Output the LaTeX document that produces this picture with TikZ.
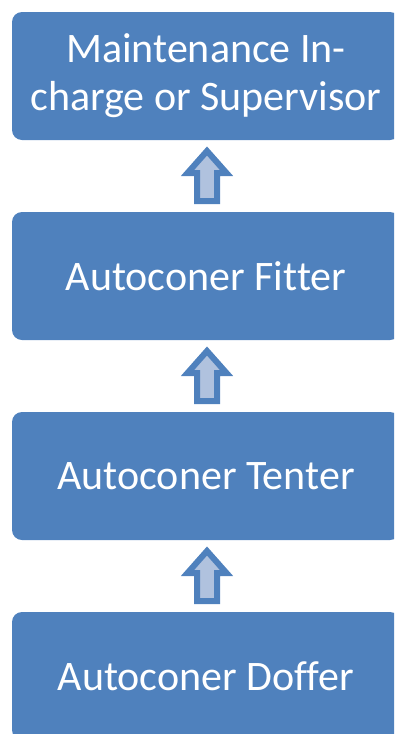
\documentclass[tikz,border=0pt]{standalone}
\usepackage{fontspec}
\setmainfont[Ligatures=NoCommon]{Carlito}
\usetikzlibrary{calc}
\definecolor{boxblue}{HTML}{4F81BD}
\definecolor{arrowfill}{HTML}{B0C2DE}
\tikzset{
  stagebox/.style={fill=boxblue, draw=none, rounded corners=10pt, minimum width=388pt, minimum height=128pt, inner sep=0pt, text=white, align=center, font=\fontsize{42pt}{48pt}\selectfont},
  uparrow/.style={fill=arrowfill, draw=boxblue, line width=6pt, line join=miter}
}
\begin{document}
\begin{tikzpicture}[x=1pt,y=1pt]
\useasboundingbox (0,0) rectangle (394,-734);
\clip (0,0) rectangle (394,-734);
\node[stagebox] (sup) at (206,-76) {Maintenance In-\\charge or Supervisor};
\node[stagebox] (fit) at (206,-276) {Autoconer Fitter};
\node[stagebox] (ten) at (206,-476) {Autoconer Tenter};
\node[stagebox] (dof) at (206,-676) {Autoconer Doffer};
\foreach \lo/\hi in {fit/sup, ten/fit, dof/ten}{
  \coordinate (m) at ($(\lo.north)!0.5!(\hi.south)+(1,0)$);
  \draw[uparrow] ($(m)+(-10,-25)$) -- ($(m)+(10,-25)$) -- ($(m)+(10,3)$) -- ($(m)+(19.5,3)$) -- ($(m)+(0,25)$) -- ($(m)+(-19.5,3)$) -- ($(m)+(-10,3)$) -- cycle;
}
\end{tikzpicture}
\end{document}
